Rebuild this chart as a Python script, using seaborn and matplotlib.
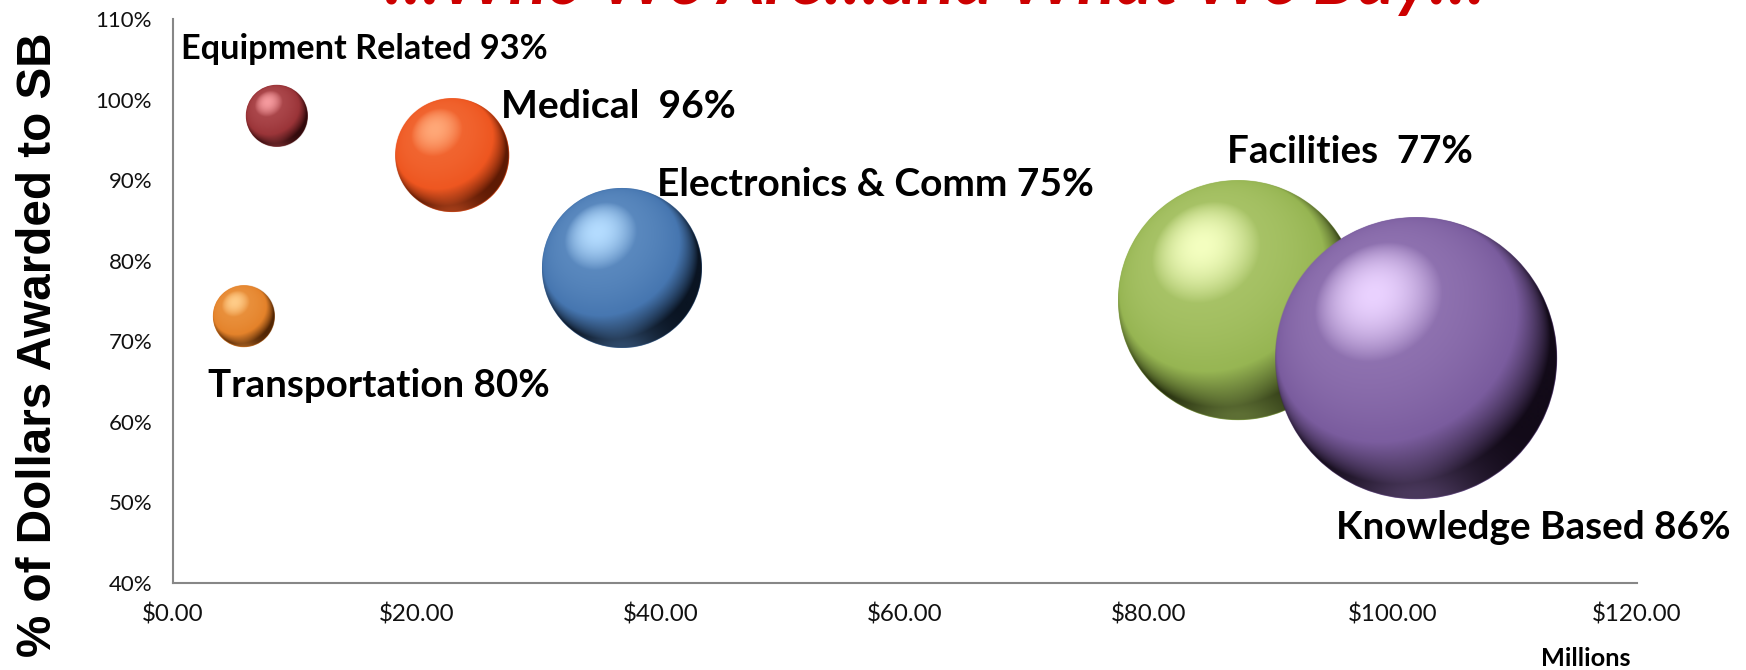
import numpy as np
import pandas as pd
import matplotlib
matplotlib.use("Agg")
import matplotlib.pyplot as plt
from matplotlib.colors import to_rgb
from matplotlib.ticker import FuncFormatter
import seaborn as sns

# ---- data -------------------------------------------------------------
categories = ["Equipment Related", "Medical", "Electronics & Comm",
              "Transportation", "Facilities", "Knowledge Based"]
dollars_millions = [8.5, 22.9, 36.8, 5.8, 87.3, 101.9]
pct_awarded_sb = [0.980, 0.931, 0.791, 0.731, 0.751, 0.679]
bubble_size = [4.8, 16.3, 32.2, 4.8, 72.4, 100.0]
label_pct = [93, 96, 75, 80, 77, 86]
label_gap = [" ", "  ", " ", " ", "  ", " "]
x_ticks = [0, 20, 40, 60, 80, 100, 120]
y_ticks = [0.4, 0.5, 0.6, 0.7, 0.8, 0.9, 1.0, 1.1]

# sphere colours: shadow rim, body, highlight
base_colors = ["#9A3438", "#EE5620", "#4676B0", "#E4822A", "#96B552", "#7A5C9E"]
rim_colors = ["#320A0C", "#5E1A04", "#0A1422", "#522604", "#222B0C", "#120A18"]
light_colors = ["#F59A9E", "#FFA878", "#B4DCFF", "#FFCC88", "#F4FFC0", "#EAD2FF"]

# label offsets from bubble centre (points): left edge, vertical centre
label_dx = [-69, 35, 25, -26, -8, -58]
label_dy = [48, 35, 60, -50, 107, -122]
label_width_px = [367, 234, 437, 341, 245, 394]

df = pd.DataFrame({"category": categories, "dollars": dollars_millions,
                   "pct": pct_awarded_sb, "size": bubble_size})

# ---- figure ----------------------------------------------------------
sns.set_theme(style="white")
plt.rcParams["font.family"] = ["Lato", "DejaVu Sans"]

W, H, DPI = 1746, 670, 100
fig = plt.figure(figsize=(W / DPI, H / DPI), dpi=DPI)
ax_left, ax_bottom = 173 / W, 1 - 583 / H
ax_w, ax_h = (1637 - 173) / W, (583 - 19) / H
ax = fig.add_axes([ax_left, ax_bottom, ax_w, ax_h])

XLIM, YLIM = (0, 120), (0.4, 1.1)
SIZE_MAX = 41210.0
palette = dict(zip(categories, base_colors))
sns.scatterplot(data=df, x="dollars", y="pct", hue="category", palette=palette,
                size="size", sizes=(0, SIZE_MAX), size_norm=(0, 100),
                legend=False, linewidth=0, ax=ax, zorder=2)


def sphere_image(rim, body, light, n):
    """RGBA image of a lit sphere, light from the upper left front."""
    rim, body, light = map(np.array, (to_rgb(rim), to_rgb(body), to_rgb(light)))
    soft = body + 0.18 * (light - body)
    c = (np.arange(n) + 0.5) / n * 2 - 1
    x, y = np.meshgrid(c, -c)
    rr = np.sqrt(x ** 2 + y ** 2)
    z = np.sqrt(np.clip(1 - rr ** 2, 0, 1))
    L = np.array([-0.30, 0.45, 0.84])
    L = L / np.linalg.norm(L)
    d = np.clip(x * L[0] + y * L[1] + z * L[2], 0, 1)
    stops = [0.0, 0.45, 0.88, 1.0]
    rgb = np.stack([np.interp(d, stops, [rim[k], body[k], soft[k], light[k]])
                    for k in range(3)], axis=-1)
    # soft reflected light along the lower edge
    refl = 0.45 * np.clip((-y - 0.5) / 0.45, 0, 1) * np.exp(-x ** 2 / 0.25)
    rgb = rgb + (soft - rgb) * refl[..., None]
    alpha = np.clip((1 - rr) * n / 2.0, 0, 1)
    return np.dstack([np.clip(rgb, 0, 1), alpha])


# overlay a shaded sphere exactly over every bubble
px_per_x = ax_w * W / (XLIM[1] - XLIM[0])
px_per_y = ax_h * H / (YLIM[1] - YLIM[0])
for i, row in df.iterrows():
    r_px = np.sqrt(SIZE_MAX * row["size"] / 100.0) / 2.0 * DPI / 72.0
    n = max(80, int(4 * r_px))
    img = sphere_image(rim_colors[i], base_colors[i], light_colors[i], n)
    rx, ry = r_px / px_per_x, r_px / px_per_y
    ax.imshow(img, extent=(row["dollars"] - rx, row["dollars"] + rx,
                           row["pct"] - ry, row["pct"] + ry),
              aspect="auto", interpolation="bilinear", zorder=3 + i)

ax.set_xlim(*XLIM)
ax.set_ylim(*YLIM)

# ---- axes styling ----------------------------------------------------
spine_col = "#878787"
for side in ("top", "right"):
    ax.spines[side].set_visible(False)
for side in ("left", "bottom"):
    ax.spines[side].set_color(spine_col)
    ax.spines[side].set_linewidth(1.5)
ax.set_xticks(x_ticks)
ax.set_yticks(y_ticks)
ax.xaxis.set_major_formatter(FuncFormatter(lambda v, p: f"${v:.2f}"))
ax.yaxis.set_major_formatter(FuncFormatter(lambda v, p: f"{v * 100:.0f}%"))
ax.tick_params(axis="both", direction="out", length=6, width=1.5,
               color=spine_col, labelcolor="#111111", labelsize=13)
ax.tick_params(axis="x", pad=9)
ax.tick_params(axis="y", pad=9)
ax.set_xlabel("")
ax.set_ylabel("")
ax.grid(False)

# ---- labels -----------------------------------------------------------
label_artists = []
for i, row in df.iterrows():
    txt = f"{row['category']}{label_gap[i]}{label_pct[i]}%"
    a = ax.annotate(txt, xy=(row["dollars"], row["pct"]),
                    xytext=(label_dx[i], label_dy[i]), textcoords="offset points",
                    ha="left", va="center", fontsize=22, fontweight="bold",
                    color="black", zorder=20, annotation_clip=False)
    label_artists.append(a)

title = fig.text(935 / W, 1 - 4 / H, "…Who We Are…and What We Buy…",
                 ha="center", va="baseline", color="#CC0000", fontsize=36,
                 fontweight="bold", fontstyle="italic")
ylab = fig.text(39 / W, 1 - 345 / H, "% of Dollars Awarded to SB",
                rotation=90, ha="center", va="center", fontsize=28,
                fontweight="bold", family=["Liberation Sans", "DejaVu Sans"],
                color="black")
millions = fig.text(1586 / W, 1 - 659 / H, "Millions", ha="center",
                    va="center", fontsize=12, fontweight="bold", color="black")

# scale each text block to its intended pixel extent
fig.canvas.draw()
renderer = fig.canvas.get_renderer()


def fit(artist, target, use_height=False):
    bb = artist.get_window_extent(renderer)
    cur = bb.height if use_height else bb.width
    artist.set_fontsize(artist.get_fontsize() * target / cur)


for a, w in zip(label_artists, label_width_px):
    fit(a, w)
fit(title, 1100)
fit(ylab, 624, use_height=True)
fit(millions, 89)

x_lab = ax.get_xticklabels()[1]
y_lab = ax.get_yticklabels()[-1]
x_scale = 75 / x_lab.get_window_extent(renderer).width
y_scale = 56 / y_lab.get_window_extent(renderer).width
ax.tick_params(axis="x", labelsize=13 * x_scale)
ax.tick_params(axis="y", labelsize=13 * y_scale)

fig.savefig("out.png", dpi=DPI)
